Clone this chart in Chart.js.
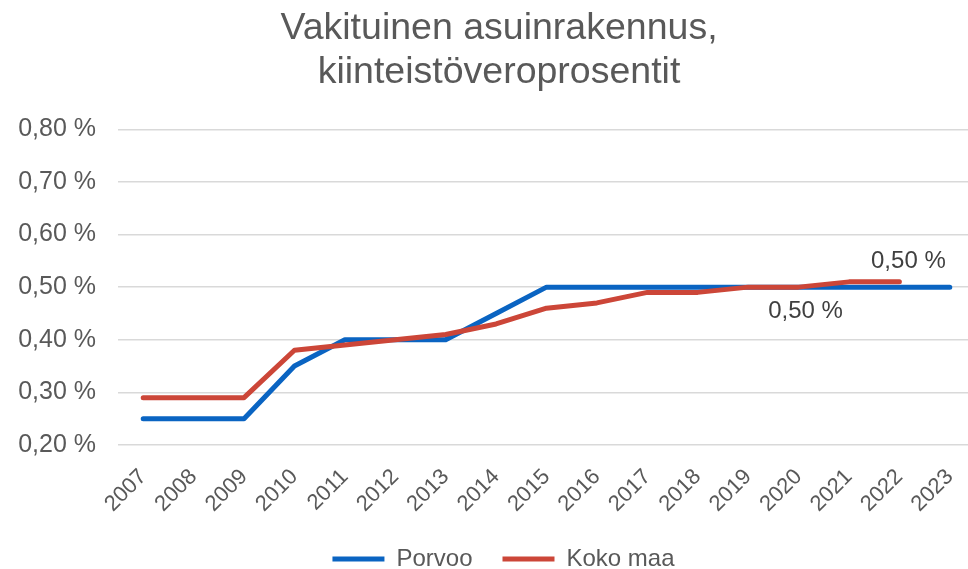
<!DOCTYPE html>
<html>
<head>
<meta charset="utf-8">
<script src="https://cdn.jsdelivr.net/npm/chart.js@4"></script>
<style>
html,body{margin:0;padding:0;background:#fff;overflow:hidden;}
#wrap{width:968px;height:569px;position:relative;overflow:hidden;}
</style>
</head>
<body>
<div id="wrap"><canvas id="c" width="1000" height="569"></canvas></div>
<script>
const years = ['2007','2008','2009','2010','2011','2012','2013','2014','2015','2016','2017','2018','2019','2020','2021','2022','2023'];
const porvoo = [0.25,0.25,0.25,0.35,0.40,0.40,0.40,0.45,0.50,0.50,0.50,0.50,0.50,0.50,0.50,0.50,0.50];
const kokoMaa = [0.29,0.29,0.29,0.38,0.39,0.40,0.41,0.43,0.46,0.47,0.49,0.49,0.50,0.50,0.51,0.51,null];
const titleLines = ['Vakituinen asuinrakennus,','kiinteistöveroprosentit'];
// labelled points: [dataset index, point index, text, position]
const pointLabels = [[0,13,'0,50 %','below'],[1,15,'0,50 %','above']];

const fmt = v => v.toFixed(2).replace('.',',') + ' %';
const FONT = "'Liberation Sans', Arial, sans-serif";
const GREY = '#595959';

const labelPlugin = {
  id:'pointLabels',
  afterDatasetsDraw(chart){
    const ctx = chart.ctx;
    ctx.save();
    ctx.font = '24px ' + FONT;
    ctx.fillStyle = '#404040';
    ctx.textAlign = 'center';
    ctx.textBaseline = 'middle';
    pointLabels.forEach(([di,pi,txt,pos])=>{
      const el = chart.getDatasetMeta(di).data[pi];
      if(pos==='below'){ ctx.fillText(txt, el.x+7, el.y+24); }
      else { ctx.fillText(txt, el.x+9, el.y-20); }
    });
    ctx.restore();
  }
};

// nudge title and legend horizontally (the original is centred a bit right of the axes block)
const nudgePlugin = {
  id:'nudge',
  afterLayout(chart){
    if(chart.titleBlock){ chart.titleBlock.left += 11.5; chart.titleBlock.right += 11.5; }
    if(chart.legend){ chart.legend.left += 16; chart.legend.right += 16;
      if(chart.legend.legendHitBoxes) chart.legend.legendHitBoxes.forEach(h=>{h.left+=16;}); }
  }
};

new Chart(document.getElementById('c'),{
  type:'line',
  data:{
    labels:years,
    datasets:[
      {label:'Porvoo',data:porvoo,borderColor:'#0a64c2',backgroundColor:'#0a64c2',borderWidth:5,pointRadius:0,tension:0,order:2,borderCapStyle:'round',borderJoinStyle:'round'},
      {label:'Koko maa',data:kokoMaa,borderColor:'#cc4638',backgroundColor:'#cc4638',borderWidth:5,pointRadius:0,tension:0,order:1,borderCapStyle:'round',borderJoinStyle:'round'}
    ]
  },
  options:{
    responsive:false,
    animation:false,
    layout:{padding:{left:0,right:25,top:6,bottom:-12}},
    plugins:{
      title:{display:true,text:titleLines,color:GREY,font:{family:FONT,size:37.5,weight:'normal',lineHeight:1.19},padding:{top:0,bottom:34}},
      legend:{position:'bottom',labels:{color:GREY,font:{family:FONT,size:24,lineHeight:1},usePointStyle:true,pointStyle:'line',pointStyleWidth:52,boxHeight:24,padding:30,
        sort:(a,b)=>a.datasetIndex-b.datasetIndex}},
      tooltip:{enabled:false}
    },
    scales:{
      x:{
        offset:true,
        grid:{display:false},
        border:{display:false},
        afterFit(s){s.height=72;},
        ticks:{color:GREY,font:{family:FONT,size:22},maxRotation:45,minRotation:45,autoSkip:false,padding:11}
      },
      y:{
        min:0.2,max:0.8,
        grid:{color:'#d9d9d9',lineWidth:1.5,drawTicks:false},
        border:{display:false},
        afterFit(s){s.width=118;},
        ticks:{stepSize:0.1,color:GREY,font:{family:FONT,size:25},padding:22,callback:v=>fmt(v)}
      }
    }
  },
  plugins:[labelPlugin,nudgePlugin]
});
</script>
</body>
</html>
